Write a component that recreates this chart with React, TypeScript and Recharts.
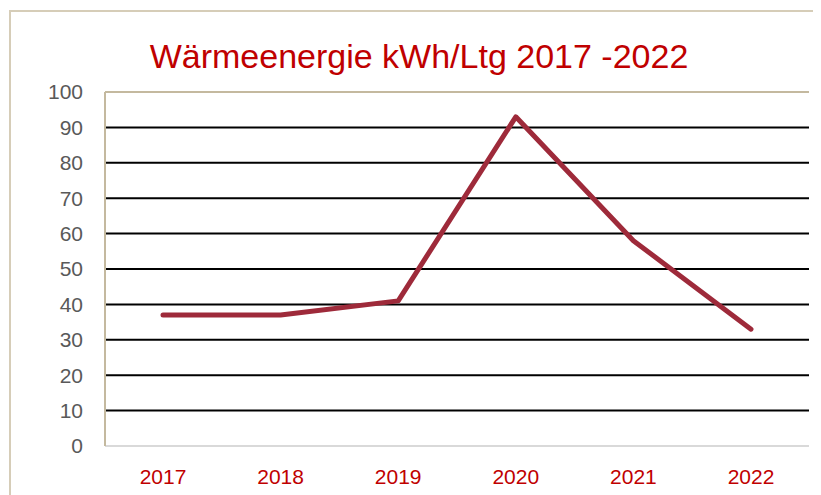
import React from "react";
import { LineChart, Line, XAxis, YAxis, CartesianGrid, ReferenceLine } from "recharts";

const years = ["2017", "2018", "2019", "2020", "2021", "2022"];
const energy = [37, 37, 41, 93, 58, 33];
const yTicks = [0, 10, 20, 30, 40, 50, 60, 70, 80, 90, 100];
const gridValues = [10, 20, 30, 40, 50, 60, 70, 80, 90];
const title = "Wärmeenergie kWh/Ltg 2017 -2022";

const data = years.map((y, i) => ({ year: y, value: energy[i] }));

const FONT = "'Liberation Sans', Arial, sans-serif";

export default function App() {
  return (
    <div style={{ position: "relative", width: 813, height: 487, fontFamily: FONT }}>
      <div
        style={{
          position: "absolute",
          left: 1,
          top: 2,
          width: 830,
          height: 500,
          borderLeft: "2px solid #d6cdb8",
          borderTop: "2px solid #d6cdb8",
        }}
      />
      <div
        style={{
          position: "absolute",
          left: 0,
          width: 822,
          top: 28,
          textAlign: "center",
          fontSize: 34,
          color: "#c00000",
          lineHeight: "40px",
        }}
      >
        {title}
      </div>
      <div style={{ position: "absolute", left: 0, top: 0 }}>
        <LineChart
          width={813}
          height={487}
          data={data}
          margin={{ top: 84, right: 12, bottom: 19, left: 37 }}
        >
          <CartesianGrid
            vertical={false}
            horizontalValues={gridValues}
            stroke="#000000"
            strokeWidth={2}
          />
          <XAxis
            dataKey="year"
            height={30}
            padding={{ left: 58, right: 58 }}
            axisLine={{ stroke: "#d9d9d9", strokeWidth: 2 }}
            tickLine={false}
            tickSize={0}
            tickMargin={23}
            tick={{ fill: "#c00000", fontSize: 21, fontFamily: FONT }}
            interval={0}
          />
          <YAxis
            width={60}
            domain={[0, 100]}
            ticks={yTicks}
            interval={0}
            axisLine={{ stroke: "#c4b99f", strokeWidth: 2 }}
            tickLine={false}
            tickSize={0}
            tickMargin={22}
            tick={{ fill: "#595959", fontSize: 21, fontFamily: FONT }}
          />
          <YAxis
            yAxisId="right"
            orientation="right"
            width={0}
            domain={[0, 100]}
            axisLine={{ stroke: "#c4b99f", strokeWidth: 2 }}
            tick={false}
            tickLine={false}
          />
          <ReferenceLine y={100} stroke="#c4b99f" strokeWidth={2} />
          <Line
            type="linear"
            dataKey="value"
            stroke="#9e2a3a"
            strokeWidth={5}
            strokeLinecap="round"
            strokeLinejoin="round"
            dot={false}
            isAnimationActive={false}
          />
        </LineChart>
      </div>
    </div>
  );
}
